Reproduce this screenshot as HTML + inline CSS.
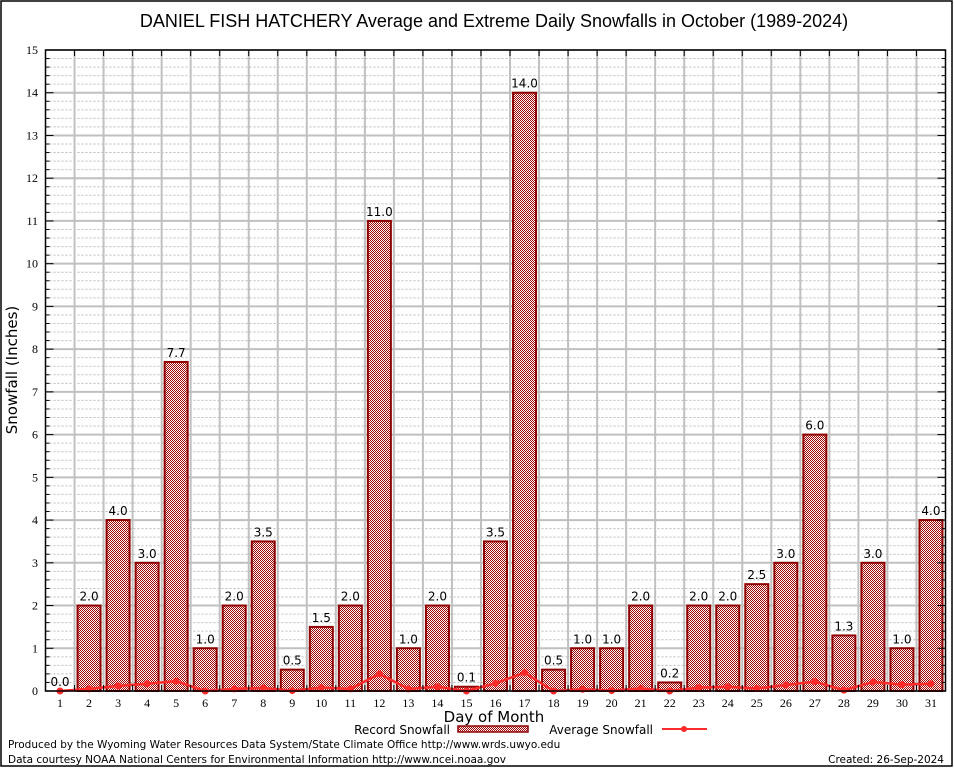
<!DOCTYPE html>
<html><head><meta charset="utf-8"><style>
body{margin:0;background:#fff;}
svg{display:block;font-family:"Liberation Sans",sans-serif;}
.dv{font-family:"DejaVu Sans",sans-serif;}
</style></head><body>
<svg id="chart" width="954" height="768" xmlns="http://www.w3.org/2000/svg">
<defs>
<pattern id="chk" width="2" height="2" patternUnits="userSpaceOnUse">
<rect width="2" height="2" fill="#fff"/>
<rect width="1" height="1" fill="#a00000"/>
<rect x="1" y="1" width="1" height="1" fill="#a00000"/>
</pattern>
</defs>
<rect x="1" y="1" width="951" height="765" fill="#fff" stroke="#000" stroke-width="1.5"/>
<text x="494" y="27" font-size="18" text-anchor="middle">DANIEL FISH HATCHERY Average and Extreme Daily Snowfalls in October (1989-2024)</text>
<g id="grid"></g>
<g id="bars"></g>
<g id="avg"></g>
<g id="axes"></g>
<text class="dv" transform="translate(17,370) rotate(-90)" font-size="15" text-anchor="middle">Snowfall (Inches)</text>
<text class="dv" x="494" y="722" font-size="15" text-anchor="middle">Day of Month</text>
<g class="dv">
<text x="450" y="734" font-size="12" text-anchor="end">Record Snowfall</text>
<rect x="458" y="726" width="70" height="6" fill="url(#chk)" stroke="#900000" stroke-width="1.5"/>
</g>
<g class="dv">
<text x="653" y="734" font-size="12" text-anchor="end">Average Snowfall</text>
<line x1="662" y1="729" x2="707" y2="729" stroke="#ff2a2a" stroke-width="2"/>
<circle cx="684" cy="729" r="3" fill="#ff2a2a"/>
</g>
<text class="dv" x="8" y="748" font-size="10.5">Produced by the Wyoming Water Resources Data System/State Climate Office http://www.wrds.uwyo.edu</text>
<text class="dv" x="8" y="763" font-size="10.5">Data courtesy NOAA National Centers for Environmental Information http://www.ncei.noaa.gov</text>
<text class="dv" x="944" y="763" font-size="10.5" text-anchor="end">Created: 26-Sep-2024</text>
</svg>
<script>
const days=[1,2,3,4,5,6,7,8,9,10,11,12,13,14,15,16,17,18,19,20,21,22,23,24,25,26,27,28,29,30,31];
const records=[0.0,2.0,4.0,3.0,7.7,1.0,2.0,3.5,0.5,1.5,2.0,11.0,1.0,2.0,0.1,3.5,14.0,0.5,1.0,1.0,2.0,0.2,2.0,2.0,2.5,3.0,6.0,1.3,3.0,1.0,4.0];
const averages=[0.0,0.05,0.12,0.17,0.23,0.0,0.05,0.07,0.01,0.08,0.05,0.4,0.05,0.1,0.0,0.18,0.43,0.0,0.04,0.01,0.06,0.0,0.08,0.1,0.06,0.14,0.22,0.02,0.21,0.15,0.17];
const yTicks=[0,1,2,3,4,5,6,7,8,9,10,11,12,13,14,15];
const L=45.5,R=945.5,T=50,B=691;
const x=d=>L+(d-0.5)*(R-L)/31;
const y=v=>B-v*(B-T)/15;
const NS="http://www.w3.org/2000/svg";
function mk(tag,attrs,parent){const e=document.createElementNS(NS,tag);for(const k in attrs)e.setAttribute(k,attrs[k]);parent.appendChild(e);return e;}
const grid=document.getElementById('grid'),bars=document.getElementById('bars'),avg=document.getElementById('avg'),axes=document.getElementById('axes');
for(let i=1;i<75;i++){if(i%5===0)continue;const l=mk('line',{x1:L,x2:R,y1:y(i/5),y2:y(i/5),stroke:'#bbb','stroke-width':1,'stroke-dasharray':'2,2'},grid);

}
yTicks.forEach(t=>{const l=mk('line',{x1:L,x2:R,y1:y(t),y2:y(t),stroke:'#c0c0c0','stroke-width':2},grid);


const tx=mk('text',{x:38,y:y(t)+4,'font-size':12,'text-anchor':'end','font-family':'Liberation Serif,serif'},axes);tx.textContent=t;


mk('line',{x1:L,x2:L+8,y1:y(t),y2:y(t),stroke:'#000'},axes);mk('line',{x1:R,x2:R-8,y1:y(t),y2:y(t),stroke:'#000'},axes);
if(t<15)for(let k=1;k<5;k++){const yy=y(t+k/5);mk('line',{x1:L,x2:L+4,y1:yy,y2:yy,stroke:'#000'},axes);mk('line',{x1:R,x2:R-4,y1:yy,y2:yy,stroke:'#000'},axes);}
});
for(let i=1;i<31;i++){const l=mk('line',{x1:x(i+0.5),x2:x(i+0.5),y1:T,y2:B,stroke:'#c0c0c0','stroke-width':2},grid);


mk('line',{x1:x(i+0.5),x2:x(i+0.5),y1:B,y2:B-6,stroke:'#000'},axes);mk('line',{x1:x(i+0.5),x2:x(i+0.5),y1:T,y2:T+6,stroke:'#000'},axes);}
days.forEach((d,i)=>{const v=records[i];const w=23;
const r=mk('rect',{x:x(d)-w/2,y:y(v),width:w,height:B-y(v),fill:'url(#chk)',stroke:'#900000','stroke-width':2},bars);


const t=mk('text',{x:x(d),y:y(v)-5,'font-size':12,'text-anchor':'middle',fill:'#000','class':'dv'},bars);t.textContent=v.toFixed(1);


const tl=mk('text',{x:x(d),y:B+16,'font-size':12,'text-anchor':'middle','font-family':'Liberation Serif,serif'},axes);tl.textContent=d;


});
const pl=mk('polyline',{points:days.map((d,i)=>x(d)+','+y(averages[i])).join(' '),fill:'none',stroke:'#ff2a2a','stroke-width':2.5},avg);


days.forEach((d,i)=>{const c=mk('circle',{cx:x(d),cy:y(averages[i]),r:3.5,fill:'#ff2a2a'},avg);

});
const fr=mk('rect',{x:L,y:T,width:R-L,height:B-T,fill:'none',stroke:'#000','stroke-width':1.5},axes);


</script>
</body></html>
